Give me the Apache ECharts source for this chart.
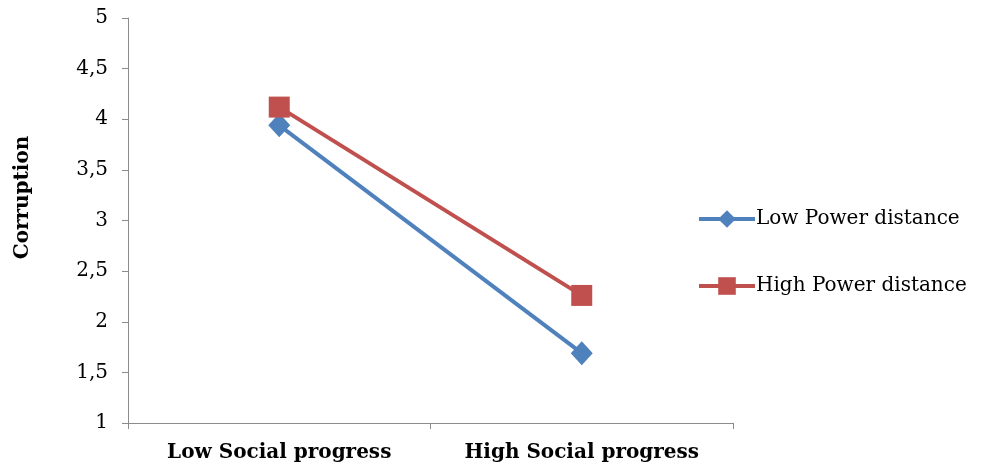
<!DOCTYPE html>
<html><head><meta charset="utf-8">
<script src="https://cdn.jsdelivr.net/npm/echarts@6/dist/echarts.min.js"></script>
<style>html,body{margin:0;padding:0;background:#fff}#c{width:983px;height:470px}</style>
</head><body><div id="c"></div>
<script>
const categories = ['Low Social progress', 'High Social progress'];
const lowPowerDistance = [3.94, 1.69];
const highPowerDistance = [4.12, 2.26];
const seriesNames = ['Low Power distance', 'High Power distance'];
const yTitle = 'Corruption';

const chart = echarts.init(document.getElementById('c'), null, {renderer: 'canvas'});
const font = 'DejaVu Serif';
chart.setOption({
  animation: false,
  textStyle: {fontFamily: font},
  grid: {left: 128, right: 250, top: 18, bottom: 47, containLabel: false},
  legend: {
    orient: 'vertical', left: 692, top: 204, itemGap: 47,
    itemWidth: 56, itemHeight: 22,
    lineStyle: {width: 4},
    textStyle: {fontFamily: font, fontSize: 20, color: '#000', padding: [0,0,0,-4]},
    data: seriesNames
  },
  xAxis: {
    type: 'category', data: categories, boundaryGap: true,
    axisLine: {lineStyle: {color: '#8c8c8c', width: 1}},
    axisTick: {show: true, length: 6, interval: 0, lineStyle: {color: '#8c8c8c'}},
    axisLabel: {fontFamily: font, fontSize: 20, fontWeight: 'bold', color: '#000', margin: 20,
      interval: 0, hideOverlap: false}
  },
  yAxis: {
    type: 'value', min: 1, max: 5, interval: 0.5,
    name: yTitle, nameLocation: 'middle', nameGap: 95, nameRotate: 90,
    nameTextStyle: {fontFamily: font, fontSize: 20, fontWeight: 'bold', color: '#000', padding: [0, 0, 0, 46]},
    axisLine: {show: true, lineStyle: {color: '#8c8c8c', width: 1}},
    axisTick: {show: true, length: 6, lineStyle: {color: '#8c8c8c'}},
    splitLine: {show: false},
    axisLabel: {fontFamily: font, fontSize: 20, color: '#000', margin: 20,
      formatter: v => String(v).replace('.', ',')}
  },
  series: [
    {name: seriesNames[0], type: 'line', data: lowPowerDistance,
     symbol: 'diamond', symbolSize: [22, 24],
     lineStyle: {color: '#4F81BD', width: 4}, itemStyle: {color: '#4F81BD'}},
    {name: seriesNames[1], type: 'line', data: highPowerDistance,
     symbol: 'rect', symbolSize: 21,
     lineStyle: {color: '#C0504D', width: 4}, itemStyle: {color: '#C0504D'}}
  ]
});
</script></body></html>
